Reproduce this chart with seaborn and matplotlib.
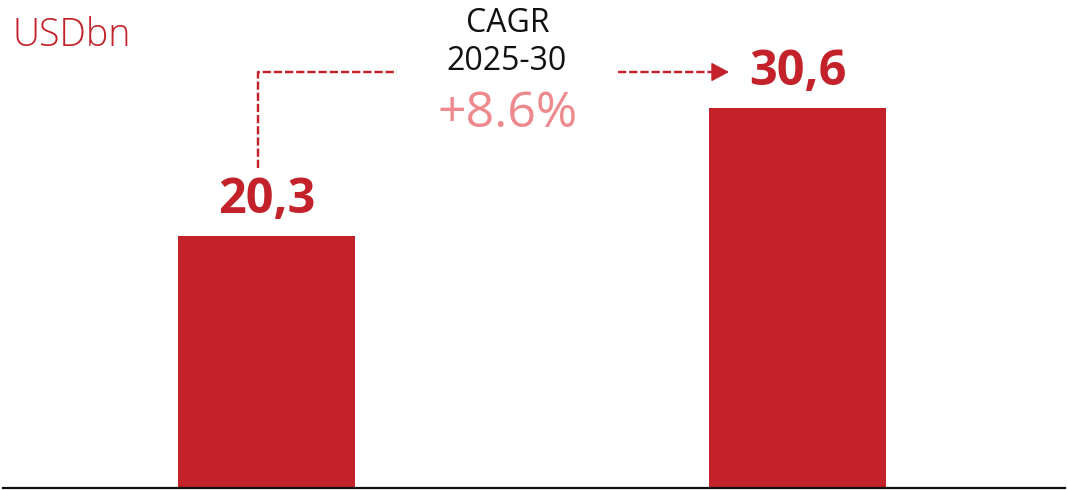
import numpy as np
import pandas as pd
import matplotlib
matplotlib.use("Agg")
import matplotlib.pyplot as plt
import seaborn as sns

# Market size, USD bn
years = ["2025", "2030"]
values = [20.3, 30.6]
unit_label = "USDbn"
cagr_title = ["CAGR", "2025-30"]
n_years = 5

RED = "#C3222A"
PINK = "#EE8A8D"

sns.set_theme(style="white")
plt.rcParams["font.family"] = ["Open Sans", "DejaVu Sans"]

W, H, DPI = 1068, 490, 100
fig = plt.figure(figsize=(W / DPI, H / DPI), dpi=DPI)
ax = fig.add_axes([3 / W, 2 / H, 1062 / W, 488 / H])

df = pd.DataFrame({"year": years, "value": values})
sns.barplot(data=df, x="year", y="value", color=RED, saturation=1,
            width=0.333, ax=ax, edgecolor="none")

ax.set_xlim(-0.496, 1.504)
ax.set_ylim(0, 39.25)
ax.set_xlabel("")
ax.set_ylabel("")
ax.set_xticks([])
ax.set_yticks([])
for side in ("top", "left", "right"):
    ax.spines[side].set_visible(False)
ax.spines["bottom"].set_color("#111111")
ax.spines["bottom"].set_linewidth(1.6)

# value labels above the bars
for i, v in enumerate(values):
    ax.annotate(f"{v:.1f}".replace(".", ","), xy=(i, v), xytext=(0, 23),
                textcoords="offset pixels", ha="center", va="baseline",
                fontsize=35, fontweight="bold", color=RED)

def fx(px):
    return px / W

def fy(py):
    return 1 - py / H

# unit label
fig.text(fx(12), fy(46), unit_label, fontsize=27, fontweight="light",
         color=RED, ha="left", va="baseline")

# CAGR block
cagr = (values[1] / values[0]) ** (1 / n_years) - 1
fig.text(fx(508), fy(32), cagr_title[0], fontsize=23, color="#111111",
         ha="center", va="baseline")
fig.text(fx(507), fy(70), cagr_title[1], fontsize=23, color="#111111",
         ha="center", va="baseline")
fig.text(fx(508), fy(127), f"+{cagr * 100:.1f}%", fontsize=36,
         color=PINK, ha="center", va="baseline")

# dashed connector from the first bar to the second
px_per_unit = 488 / 39.25
def dy(py):
    return (488 - py) / px_per_unit

def dx(px):
    return (px - 3) / 531 - 0.496

dash = (0, (3.4, 1.2))
lw = 1.75
ax.plot([dx(257.5), dx(257.5), dx(397)], [dy(168), dy(72), dy(72)],
        color=RED, lw=lw, linestyle=dash, solid_capstyle="butt",
        dash_capstyle="butt", clip_on=False)
ax.plot([dx(618), dx(714)], [dy(72), dy(72)], color=RED, lw=lw,
        linestyle=dash, dash_capstyle="butt", clip_on=False)
ax.annotate("", xy=(dx(729), dy(72)), xytext=(dx(713), dy(72)),
            arrowprops=dict(arrowstyle="-|>,head_length=0.56,head_width=0.3",
                            color=RED, lw=1.0, shrinkA=0, shrinkB=0,
                            mutation_scale=20),
            annotation_clip=False)

fig.savefig("out.png", dpi=DPI, facecolor="white")
